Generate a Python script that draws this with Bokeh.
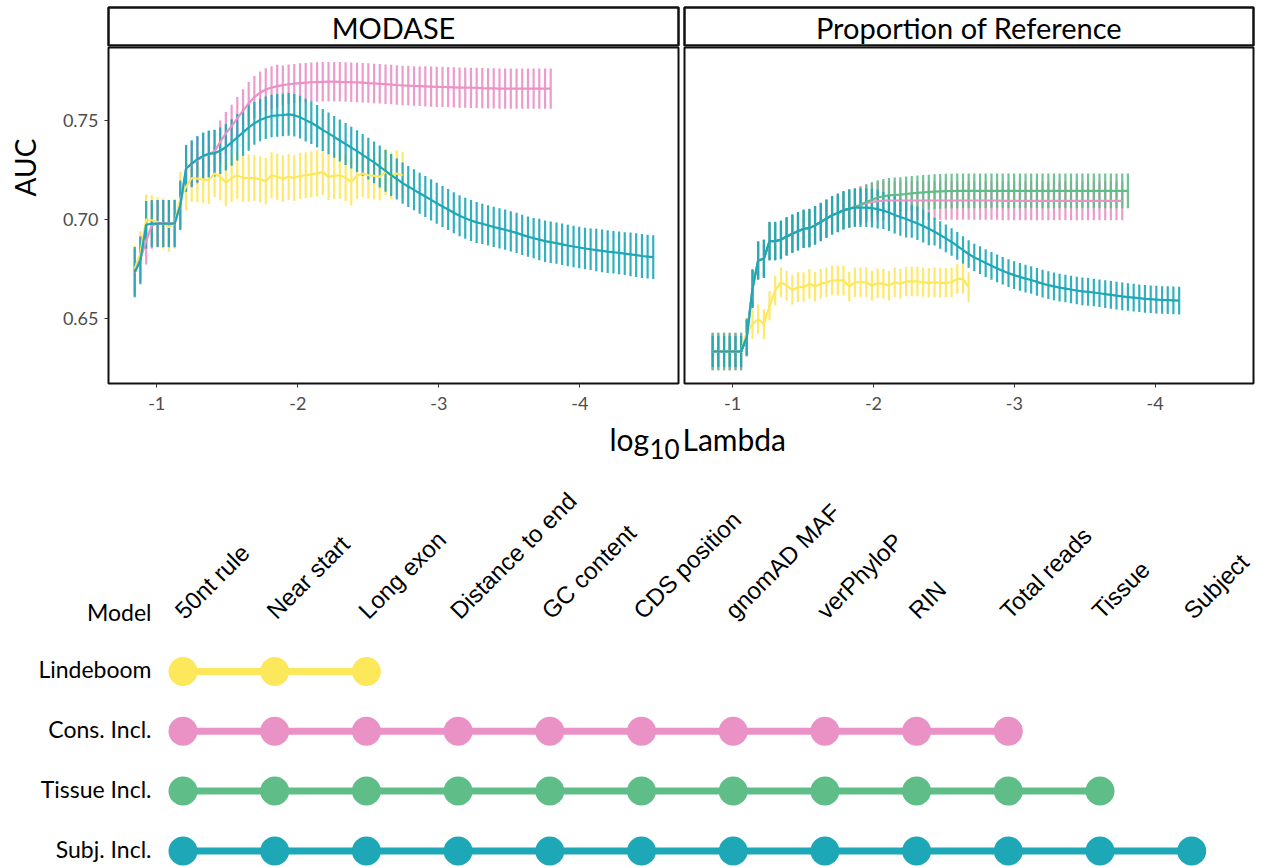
import math
from bokeh.plotting import figure
from bokeh.models import Range1d, FixedTicker, ColumnDataSource, PrintfTickFormatter
from bokeh.layouts import column, row
from bokeh.embed import file_html
from bokeh.resources import INLINE
from bokeh.core.properties import value

# ---------------- data ----------------
panel_titles = ["MODASE", "Proportion of Reference"]
y_axis_title = "AUC"

log_lambda_modase = [
    -0.844, -0.884, -0.925, -0.965, -1.006, -1.046, -1.086, -1.127, -1.167, -1.208,
    -1.248, -1.288, -1.329, -1.369, -1.410, -1.450, -1.490, -1.531, -1.571, -1.612,
    -1.652, -1.692, -1.733, -1.773, -1.814, -1.854, -1.894, -1.935, -1.975, -2.016,
    -2.056, -2.096, -2.137, -2.177, -2.218, -2.258, -2.298, -2.339, -2.379, -2.420,
    -2.460, -2.500, -2.541, -2.581, -2.622, -2.662, -2.702, -2.743, -2.783, -2.824,
    -2.864, -2.904, -2.945, -2.985, -3.026, -3.066, -3.106, -3.147, -3.187, -3.228,
    -3.268, -3.308, -3.349, -3.389, -3.430, -3.470, -3.510, -3.551, -3.591, -3.632,
    -3.672, -3.712, -3.753, -3.793, -3.834, -3.874, -3.914, -3.955, -3.995, -4.036,
    -4.076, -4.116, -4.157, -4.197, -4.238, -4.278, -4.318, -4.359, -4.399, -4.440,
    -4.480, -4.520]

log_lambda_propref = [
    -0.858, -0.898, -0.939, -0.979, -1.020, -1.060, -1.100, -1.141, -1.181, -1.222,
    -1.262, -1.302, -1.343, -1.383, -1.424, -1.464, -1.504, -1.545, -1.585, -1.626,
    -1.666, -1.706, -1.747, -1.787, -1.828, -1.868, -1.908, -1.949, -1.989, -2.030,
    -2.070, -2.110, -2.151, -2.191, -2.232, -2.272, -2.312, -2.353, -2.393, -2.434,
    -2.474, -2.514, -2.555, -2.595, -2.636, -2.676, -2.716, -2.757, -2.797, -2.838,
    -2.878, -2.918, -2.959, -2.999, -3.040, -3.080, -3.120, -3.161, -3.201, -3.242,
    -3.282, -3.322, -3.363, -3.403, -3.444, -3.484, -3.524, -3.565, -3.605, -3.646,
    -3.686, -3.726, -3.767, -3.807, -3.848, -3.888, -3.928, -3.969, -4.009, -4.050,
    -4.090, -4.130, -4.171]

# MODASE panel
modase_subj_auc = [
    0.6733, 0.6792, 0.6973, 0.6979, 0.6979, 0.6979, 0.6979, 0.6979, 0.7072, 0.7258,
    0.7283, 0.7305, 0.7322, 0.7332, 0.7336, 0.7348, 0.7366, 0.7390, 0.7416, 0.7441,
    0.7466, 0.7487, 0.7504, 0.7515, 0.7524, 0.7527, 0.7529, 0.7532, 0.7528, 0.7518,
    0.7503, 0.7490, 0.7472, 0.7453, 0.7436, 0.7418, 0.7400, 0.7382, 0.7364, 0.7346,
    0.7327, 0.7308, 0.7289, 0.7268, 0.7246, 0.7225, 0.7205, 0.7184, 0.7167, 0.7150,
    0.7133, 0.7116, 0.7099, 0.7082, 0.7066, 0.7050, 0.7034, 0.7019, 0.7006, 0.6995,
    0.6985, 0.6978, 0.6970, 0.6962, 0.6955, 0.6948, 0.6940, 0.6932, 0.6922, 0.6913,
    0.6905, 0.6898, 0.6890, 0.6885, 0.6880, 0.6874, 0.6868, 0.6863, 0.6858, 0.6853,
    0.6849, 0.6845, 0.6841, 0.6837, 0.6834, 0.6831, 0.6827, 0.6823, 0.6819, 0.6815,
    0.6812, 0.6809]
modase_subj_se = [
    0.0127, 0.0120, 0.0120, 0.0120, 0.0120, 0.0120, 0.0120, 0.0120, 0.0125, 0.0118,
    0.0118, 0.0118, 0.0118, 0.0118, 0.0118, 0.0118, 0.0118, 0.0118, 0.0118, 0.0118,
    0.0118, 0.0108, 0.0108, 0.0108, 0.0108, 0.0108, 0.0108, 0.0108, 0.0108, 0.0108,
    0.0108, 0.0108, 0.0108, 0.0106, 0.0106, 0.0106, 0.0106, 0.0106, 0.0106, 0.0106,
    0.0106, 0.0106, 0.0106, 0.0106, 0.0106, 0.0106, 0.0104, 0.0104, 0.0104, 0.0104,
    0.0104, 0.0104, 0.0104, 0.0104, 0.0104, 0.0104, 0.0104, 0.0104, 0.0104, 0.0104,
    0.0104, 0.0102, 0.0102, 0.0102, 0.0102, 0.0102, 0.0102, 0.0102, 0.0102, 0.0102,
    0.0102, 0.0105, 0.0105, 0.0105, 0.0105, 0.0105, 0.0105, 0.0105, 0.0105, 0.0105,
    0.0105, 0.0108, 0.0108, 0.0108, 0.0108, 0.0108, 0.0108, 0.0111, 0.0111, 0.0111,
    0.0111, 0.0111]

modase_cons_auc = [
    0.6730, 0.6800, 0.6890, 0.6970, 0.6980, 0.6980, 0.6980, 0.6980, 0.7070, 0.7260,
    0.7280, 0.7300, 0.7320, 0.7330, 0.7345, 0.7393, 0.7436, 0.7473, 0.7512, 0.7551,
    0.7588, 0.7619, 0.7642, 0.7658, 0.7668, 0.7675, 0.7680, 0.7685, 0.7688, 0.7691,
    0.7693, 0.7695, 0.7696, 0.7697, 0.7698, 0.7698, 0.7697, 0.7696, 0.7695, 0.7694,
    0.7693, 0.7691, 0.7689, 0.7687, 0.7685, 0.7683, 0.7681, 0.7679, 0.7678, 0.7676,
    0.7675, 0.7674, 0.7673, 0.7672, 0.7671, 0.7670, 0.7669, 0.7668, 0.7668, 0.7667,
    0.7666, 0.7665, 0.7664, 0.7664, 0.7663, 0.7663, 0.7663, 0.7663, 0.7663, 0.7663,
    0.7663, 0.7663, 0.7663, 0.7663]
modase_cons_se = [
    0.0118, 0.0118, 0.0118, 0.0118, 0.0118, 0.0118, 0.0118, 0.0118, 0.0118, 0.0118,
    0.0118, 0.0118, 0.0118, 0.0118, 0.0108, 0.0108, 0.0108, 0.0108, 0.0108, 0.0108,
    0.0108, 0.0108, 0.0108, 0.0108, 0.0108, 0.0108, 0.0100, 0.0100, 0.0100, 0.0100,
    0.0100, 0.0100, 0.0100, 0.0100, 0.0100, 0.0100, 0.0100, 0.0100, 0.0100, 0.0100,
    0.0100, 0.0100, 0.0100, 0.0100, 0.0100, 0.0100, 0.0100, 0.0100, 0.0100, 0.0100,
    0.0100, 0.0102, 0.0102, 0.0102, 0.0102, 0.0102, 0.0102, 0.0102, 0.0102, 0.0102,
    0.0102, 0.0102, 0.0102, 0.0102, 0.0102, 0.0102, 0.0102, 0.0102, 0.0102, 0.0102,
    0.0102, 0.0102, 0.0102, 0.0102]

modase_lind_auc = [
    0.6750, 0.6830, 0.7000, 0.6996, 0.6987, 0.6979, 0.6962, 0.6979, 0.7106, 0.7165,
    0.7210, 0.7207, 0.7203, 0.7198, 0.7233, 0.7216, 0.7187, 0.7210, 0.7224, 0.7210,
    0.7210, 0.7210, 0.7203, 0.7194, 0.7224, 0.7216, 0.7207, 0.7216, 0.7210, 0.7221,
    0.7224, 0.7228, 0.7233, 0.7241, 0.7216, 0.7221, 0.7224, 0.7211, 0.7190, 0.7221,
    0.7233, 0.7224, 0.7221, 0.7216, 0.7241, 0.7221, 0.7233, 0.7224]
modase_lind_se = [
    0.0117, 0.0110, 0.0127, 0.0127, 0.0127, 0.0127, 0.0127, 0.0127, 0.0135, 0.0120,
    0.0120, 0.0120, 0.0120, 0.0120, 0.0120, 0.0120, 0.0120, 0.0120, 0.0120, 0.0120,
    0.0120, 0.0117, 0.0117, 0.0117, 0.0117, 0.0117, 0.0117, 0.0117, 0.0117, 0.0117,
    0.0117, 0.0117, 0.0117, 0.0117, 0.0117, 0.0117, 0.0119, 0.0119, 0.0119, 0.0119,
    0.0119, 0.0119, 0.0119, 0.0119, 0.0119, 0.0119, 0.0119, 0.0119]

# Proportion of Reference panel
propref_subj_auc = [
    0.6331, 0.6331, 0.6331, 0.6331, 0.6331, 0.6331, 0.6402, 0.6650, 0.6792, 0.6801,
    0.6890, 0.6890, 0.6897, 0.6914, 0.6928, 0.6940, 0.6953, 0.6956, 0.6970, 0.6987,
    0.7004, 0.7021, 0.7033, 0.7046, 0.7055, 0.7060, 0.7060, 0.7060, 0.7057, 0.7052,
    0.7045, 0.7035, 0.7023, 0.7012, 0.7002, 0.6991, 0.6980, 0.6967, 0.6953, 0.6938,
    0.6921, 0.6904, 0.6886, 0.6866, 0.6845, 0.6825, 0.6807, 0.6794, 0.6779, 0.6765,
    0.6752, 0.6740, 0.6728, 0.6718, 0.6709, 0.6700, 0.6693, 0.6684, 0.6675, 0.6667,
    0.6661, 0.6655, 0.6650, 0.6645, 0.6640, 0.6636, 0.6633, 0.6630, 0.6626, 0.6622,
    0.6618, 0.6614, 0.6610, 0.6607, 0.6604, 0.6601, 0.6598, 0.6596, 0.6594, 0.6592,
    0.6591, 0.6590, 0.6589]
propref_subj_se = [
    0.0079, 0.0079, 0.0079, 0.0079, 0.0079, 0.0079, 0.0090, 0.0098, 0.0098, 0.0098,
    0.0098, 0.0098, 0.0098, 0.0098, 0.0098, 0.0098, 0.0098, 0.0098, 0.0098, 0.0098,
    0.0098, 0.0098, 0.0098, 0.0098, 0.0098, 0.0098, 0.0098, 0.0098, 0.0098, 0.0098,
    0.0094, 0.0094, 0.0094, 0.0094, 0.0094, 0.0084, 0.0084, 0.0084, 0.0084, 0.0070,
    0.0070, 0.0070, 0.0070, 0.0070, 0.0070, 0.0070, 0.0070, 0.0070, 0.0070, 0.0070,
    0.0070, 0.0070, 0.0070, 0.0070, 0.0070, 0.0070, 0.0070, 0.0070, 0.0070, 0.0070,
    0.0070, 0.0070, 0.0070, 0.0070, 0.0070, 0.0070, 0.0070, 0.0070, 0.0070, 0.0070,
    0.0070, 0.0070, 0.0070, 0.0070, 0.0070, 0.0070, 0.0070, 0.0070, 0.0070, 0.0070,
    0.0070, 0.0070, 0.0070]

propref_tissue_auc = [
    0.6331, 0.6331, 0.6331, 0.6331, 0.6331, 0.6331, 0.6402, 0.6650, 0.6792, 0.6801,
    0.6890, 0.6890, 0.6897, 0.6914, 0.6928, 0.6940, 0.6953, 0.6956, 0.6970, 0.6987,
    0.7004, 0.7021, 0.7033, 0.7046, 0.7055, 0.7063, 0.7075, 0.7088, 0.7100, 0.7111,
    0.7117, 0.7122, 0.7124, 0.7126, 0.7129, 0.7132, 0.7135, 0.7137, 0.7139, 0.7141,
    0.7142, 0.7143, 0.7144, 0.7145, 0.7145, 0.7145, 0.7145, 0.7145, 0.7145, 0.7145,
    0.7145, 0.7145, 0.7145, 0.7145, 0.7145, 0.7145, 0.7145, 0.7145, 0.7145, 0.7145,
    0.7145, 0.7145, 0.7145, 0.7145, 0.7145, 0.7145, 0.7145, 0.7145, 0.7145, 0.7145,
    0.7145, 0.7145, 0.7145, 0.7145]
propref_tissue_se = [
    0.0095, 0.0095, 0.0095, 0.0095, 0.0095, 0.0095, 0.0095, 0.0095, 0.0095, 0.0095,
    0.0095, 0.0095, 0.0095, 0.0095, 0.0095, 0.0095, 0.0095, 0.0095, 0.0095, 0.0095,
    0.0095, 0.0095, 0.0095, 0.0095, 0.0095, 0.0088, 0.0088, 0.0088, 0.0088, 0.0088,
    0.0088, 0.0088, 0.0088, 0.0088, 0.0088, 0.0088, 0.0088, 0.0088, 0.0088, 0.0088,
    0.0088, 0.0088, 0.0088, 0.0088, 0.0088, 0.0088, 0.0088, 0.0088, 0.0088, 0.0088,
    0.0088, 0.0088, 0.0088, 0.0088, 0.0088, 0.0088, 0.0088, 0.0088, 0.0088, 0.0088,
    0.0088, 0.0088, 0.0088, 0.0088, 0.0088, 0.0088, 0.0088, 0.0088, 0.0088, 0.0088,
    0.0088, 0.0088, 0.0088, 0.0088]

propref_cons_auc = [
    0.6331, 0.6331, 0.6331, 0.6331, 0.6331, 0.6331, 0.6402, 0.6650, 0.6792, 0.6801,
    0.6890, 0.6890, 0.6897, 0.6914, 0.6928, 0.6940, 0.6953, 0.6956, 0.6970, 0.6987,
    0.7004, 0.7021, 0.7033, 0.7046, 0.7055, 0.7062, 0.7072, 0.7082, 0.7089, 0.7093,
    0.7095, 0.7096, 0.7096, 0.7096, 0.7096, 0.7096, 0.7096, 0.7096, 0.7096, 0.7096,
    0.7096, 0.7096, 0.7096, 0.7096, 0.7096, 0.7096, 0.7096, 0.7096, 0.7096, 0.7096,
    0.7096, 0.7094, 0.7094, 0.7094, 0.7094, 0.7094, 0.7094, 0.7094, 0.7094, 0.7094,
    0.7094, 0.7094, 0.7094, 0.7094, 0.7094, 0.7094, 0.7094, 0.7094, 0.7094, 0.7094,
    0.7094, 0.7094, 0.7094]
propref_cons_se = [
    0.0095, 0.0095, 0.0095, 0.0095, 0.0095, 0.0095, 0.0095, 0.0095, 0.0095, 0.0095,
    0.0095, 0.0095, 0.0095, 0.0095, 0.0095, 0.0095, 0.0095, 0.0095, 0.0095, 0.0095,
    0.0095, 0.0095, 0.0095, 0.0095, 0.0095, 0.0095, 0.0098, 0.0098, 0.0098, 0.0098,
    0.0098, 0.0098, 0.0098, 0.0098, 0.0098, 0.0098, 0.0098, 0.0098, 0.0098, 0.0098,
    0.0098, 0.0098, 0.0098, 0.0098, 0.0098, 0.0098, 0.0098, 0.0098, 0.0098, 0.0098,
    0.0098, 0.0098, 0.0098, 0.0098, 0.0098, 0.0098, 0.0098, 0.0098, 0.0098, 0.0098,
    0.0098, 0.0098, 0.0098, 0.0098, 0.0098, 0.0098, 0.0098, 0.0098, 0.0098, 0.0098,
    0.0098, 0.0098, 0.0098]

propref_lind_auc = [
    0.6331, 0.6331, 0.6331, 0.6331, 0.6331, 0.6331, 0.6428, 0.6470, 0.6496, 0.6470,
    0.6563, 0.6640, 0.6682, 0.6665, 0.6643, 0.6657, 0.6657, 0.6674, 0.6660, 0.6674,
    0.6682, 0.6691, 0.6691, 0.6691, 0.6660, 0.6682, 0.6682, 0.6682, 0.6665, 0.6677,
    0.6674, 0.6665, 0.6682, 0.6674, 0.6686, 0.6686, 0.6686, 0.6682, 0.6679, 0.6682,
    0.6679, 0.6679, 0.6682, 0.6699, 0.6699, 0.6657]
propref_lind_se = [
    0.0086, 0.0086, 0.0086, 0.0086, 0.0086, 0.0086, 0.0075, 0.0075, 0.0075, 0.0075,
    0.0075, 0.0075, 0.0075, 0.0075, 0.0075, 0.0075, 0.0075, 0.0075, 0.0075, 0.0075,
    0.0075, 0.0075, 0.0075, 0.0075, 0.0075, 0.0075, 0.0075, 0.0075, 0.0075, 0.0075,
    0.0075, 0.0075, 0.0075, 0.0075, 0.0075, 0.0075, 0.0075, 0.0075, 0.0075, 0.0075,
    0.0075, 0.0075, 0.0075, 0.0075, 0.0075, 0.0075]

# Model composition (lower panel)
models = ["Lindeboom", "Cons. Incl.", "Tissue Incl.", "Subj. Incl."]
features = ["50nt rule", "Near start", "Long exon", "Distance to end", "GC content",
            "CDS position", "gnomAD MAF", "verPhyloP", "RIN", "Total reads",
            "Tissue", "Subject"]
model_n_features = [3, 10, 11, 12]

y_ticks = [0.65, 0.70, 0.75]
x_ticks = [-1, -2, -3, -4]

# ---------------- style ----------------
model_colors = {"Lindeboom": "#FDE85C", "Cons. Incl.": "#EA91C6",
                "Tissue Incl.": "#5FBD88", "Subj. Incl.": "#1DA7B7"}
FONT = "Lato"
TICK_COLOR = "#4d4d4d"
XR = (-0.658, -4.699)
YR = (0.6169, 0.7871)
BASE_SHIFT = 0.44   # empirical correction of the alphabetic baseline (in em)

panel_series = [
    [(modase_lind_auc, modase_lind_se, "Lindeboom"),
     (modase_cons_auc, modase_cons_se, "Cons. Incl."),
     (modase_subj_auc, modase_subj_se, "Subj. Incl.")],
    [(propref_lind_auc, propref_lind_se, "Lindeboom"),
     (propref_cons_auc, propref_cons_se, "Cons. Incl."),
     (propref_tissue_auc, propref_tissue_se, "Tissue Incl."),
     (propref_subj_auc, propref_subj_se, "Subj. Incl.")],
]
panel_grids = [log_lambda_modase, log_lambda_propref]

STRIP_H = 47
FRAME_H = 336
AXIS_B = 35
PANEL_H = FRAME_H + AXIS_B


def make_strip(title, left, right, fw):
    s = figure(frame_width=fw, frame_height=38, x_range=Range1d(0, 1), y_range=Range1d(0, 1),
               x_axis_location=None, y_axis_location=None, toolbar_location=None,
               output_backend="svg", min_border_left=left, min_border_right=right,
               min_border_top=7, min_border_bottom=2, outline_line_color="#111111",
               outline_line_width=2.5, background_fill_color="white")
    s.grid.grid_line_color = None
    s.text(x=[0.5], y=[0.48], text=[title], text_align="center", text_baseline="middle",
           text_font=value(FONT), text_font_size="29px", text_color="black")
    return s


def make_panel(series, grid, left, right, fw, show_y):
    p = figure(frame_width=fw, frame_height=FRAME_H, x_range=Range1d(*XR), y_range=Range1d(*YR),
               y_axis_location="left" if show_y else None, toolbar_location=None,
               output_backend="svg", min_border_left=left, min_border_right=right,
               min_border_top=0, min_border_bottom=AXIS_B, outline_line_color="#111111",
               outline_line_width=2, background_fill_color="white")
    p.grid.grid_line_color = None
    sources = []
    for auc, se, name in series:
        n = len(auc)
        src = ColumnDataSource(dict(x=grid[:n], y=auc,
                                    lo=[a - e for a, e in zip(auc, se)],
                                    hi=[a + e for a, e in zip(auc, se)]))
        sources.append((src, name))
        p.segment(x0="x", y0="lo", x1="x", y1="hi", source=src,
                  line_color=model_colors[name], line_width=2.2, line_alpha=0.9)
    for src, name in sources:
        p.line(x="x", y="y", source=src, line_color=model_colors[name], line_width=2.2)
    axes = [p.xaxis[0]] + ([p.yaxis[0]] if show_y else [])
    for ax in axes:
        ax.axis_line_color = None
        ax.major_tick_line_color = "#333333"
        ax.major_tick_out = 4
        ax.major_tick_in = 0
        ax.minor_tick_line_color = None
        ax.major_label_text_font = FONT
        ax.major_label_text_font_size = "18px"
        ax.major_label_text_color = TICK_COLOR
        ax.major_label_standoff = 6
    p.xaxis.major_label_standoff = 9
    p.xaxis.ticker = FixedTicker(ticks=x_ticks)
    p.xaxis.major_label_overrides = {t: str(t) for t in x_ticks}
    if show_y:
        p.yaxis.ticker = FixedTicker(ticks=y_ticks)
        p.yaxis.formatter = PrintfTickFormatter(format="%.2f")
    return p


# narrow column holding the y-axis title
pY = figure(width=50, height=PANEL_H, x_range=Range1d(0, 50), y_range=Range1d(PANEL_H, 0),
            x_axis_location=None, y_axis_location=None, toolbar_location=None,
            output_backend="svg", min_border_left=0, min_border_right=0, min_border_top=0,
            min_border_bottom=0, outline_line_color=None, background_fill_color="white")
pY.grid.grid_line_color = None
pY.text(x=[36.7 - BASE_SHIFT * 28], y=[168.5 - STRIP_H + 11], text=[y_axis_title],
        angle=math.pi / 2, text_align="center", text_baseline="alphabetic",
        text_font=value(FONT), text_font_size="28px", text_color="black")

sA = make_strip(panel_titles[0], 108, 3, 570)
sB = make_strip(panel_titles[1], 3, 8, 569)
pA = make_panel(panel_series[0], panel_grids[0], 58, 3, 570, True)
pB = make_panel(panel_series[1], panel_grids[1], 3, 8, 569, False)

# ---------------- lower figure ----------------
X0, DX = 182.5, 91.7      # page x of first feature column, column spacing
Y0, DY = 671.0, 59.8      # page y of first model row, row spacing
TOP = STRIP_H + PANEL_H   # page y where lower figure starts


def fx(px):
    return (px - X0) / DX


def fy(py):
    return (py - Y0) / DY


pC = figure(width=1261, height=867 - TOP, x_range=Range1d(fx(0), fx(1261)),
            y_range=Range1d(fy(867), fy(TOP)), x_axis_location=None, y_axis_location=None,
            toolbar_location=None, output_backend="svg", min_border_left=0,
            min_border_right=0, min_border_top=0, min_border_bottom=0,
            outline_line_color=None, background_fill_color="white")
pC.grid.grid_line_color = None

# x-axis title for the top panels: log10Lambda
pC.text(x=[fx(609)], y=[fy(452 - BASE_SHIFT * 30)], text=["log"], text_align="left",
        text_baseline="alphabetic", text_font=value(FONT), text_font_size="30px",
        text_color="black")
pC.text(x=[fx(649)], y=[fy(460 - BASE_SHIFT * 26)], text=["10"], text_align="left",
        text_baseline="alphabetic", text_font=value(FONT), text_font_size="26px",
        text_color="black")
pC.text(x=[fx(682)], y=[fy(452 - BASE_SHIFT * 30)], text=["Lambda"], text_align="left",
        text_baseline="alphabetic", text_font=value(FONT), text_font_size="30px",
        text_color="black")

# header
pC.text(x=[fx(151)], y=[fy(621.7 - BASE_SHIFT * 23)], text=["Model"], text_align="right",
        text_baseline="alphabetic", text_font=value(FONT), text_font_size="23px",
        text_color="black")
lab_shift = BASE_SHIFT * 24 * math.sqrt(0.5)
pC.text(x=[i - (lab_shift - 3.5) / DX for i in range(len(features))],
        y=[fy(621.5 - lab_shift)] * len(features), text=features,
        angle=math.pi / 4, text_align="left", text_baseline="alphabetic",
        text_font=value("Liberation Sans"), text_font_size="24px", text_color="black")

for r, (m, n) in enumerate(zip(models, model_n_features)):
    xs = list(range(n))
    ys = [r] * n
    pC.line(x=xs, y=ys, line_color=model_colors[m], line_width=7)
    pC.scatter(x=xs, y=ys, size=29, fill_color=model_colors[m], line_color=None)
pC.text(x=[fx(151)] * len(models),
        y=[r + (8 - BASE_SHIFT * 23) / DY for r in range(len(models))], text=models,
        text_align="right", text_baseline="alphabetic", text_font=value(FONT),
        text_font_size="23px", text_color="black")

layout = column(row(sA, sB), row(pY, pA, pB), pC)
open("out.html", "w").write(file_html(layout, INLINE))
